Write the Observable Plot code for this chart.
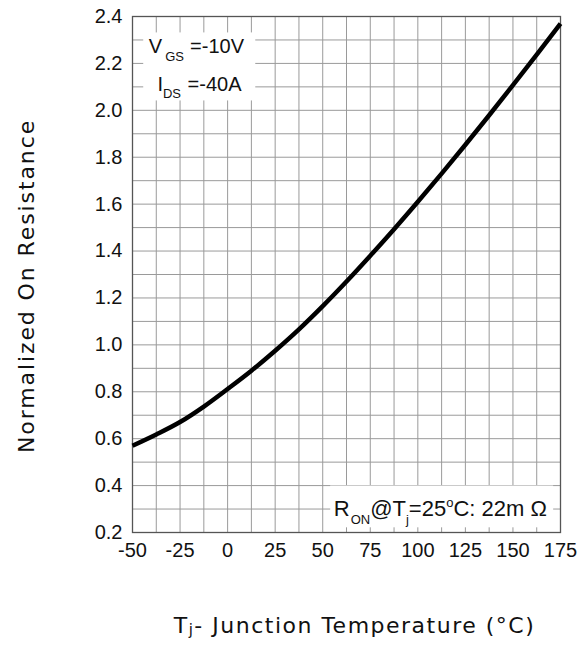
<!DOCTYPE html>
<html>
<head>
<meta charset="utf-8">
<script src="https://cdn.jsdelivr.net/npm/d3@7"></script>
<script src="https://cdn.jsdelivr.net/npm/@observablehq/plot@0.6"></script>
<style>
  body { margin: 0; background: #fff; }
  #chart svg { display: block; }
</style>
</head>
<body>
<div id="chart"></div>
<script>
// Junction temperature (°C) and normalized on-resistance
const temperature = [-50, -37.5, -25, -12.5, 0, 12.5, 25, 37.5, 50, 62.5, 75, 87.5, 100, 112.5, 125, 137.5, 150, 162.5, 175];
const resistance  = [0.570, 0.618, 0.671, 0.737, 0.812, 0.890, 0.975, 1.066, 1.165, 1.270, 1.380, 1.493, 1.610, 1.730, 1.853, 1.979, 2.107, 2.237, 2.370];

const xTickValues = [-50, -25, 0, 25, 50, 75, 100, 125, 150, 175];
const yTickValues = [0.2, 0.4, 0.6, 0.8, 1.0, 1.2, 1.4, 1.6, 1.8, 2.0, 2.2, 2.4];
const xGridValues = [-50, -37.5, -25, -12.5, 0, 12.5, 25, 37.5, 50, 62.5, 75, 87.5, 100, 112.5, 125, 137.5, 150, 162.5, 175];
const yGridValues = [0.2, 0.3, 0.4, 0.5, 0.6, 0.7, 0.8, 0.9, 1.0, 1.1, 1.2, 1.3, 1.4, 1.5, 1.6, 1.7, 1.8, 1.9, 2.0, 2.1, 2.2, 2.3, 2.4];

const xTitle = ["Tj- Junction Temperature (°C)"];
const yTitle = ["Normalized On Resistance"];
const vgsNote = ["VGS =-10V"];
const idsNote = ["IDS =-40A"];
const ronNote = ["RON@Tj=25oC: 22m Ω"];

const data = temperature.map((t, i) => ({t, r: resistance[i]}));

const plot = Plot.plot({
  width: 578,
  height: 647,
  marginLeft: 132,
  marginRight: 18,
  marginTop: 16,
  marginBottom: 115,
  style: {fontFamily: "'Liberation Sans', Arial, sans-serif", fontSize: "20px", color: "#111", background: "#fff"},
  x: {domain: [-50, 175], ticks: xTickValues, tickFormat: d => String(d), tickSize: 0, tickPadding: 10, label: null},
  y: {domain: [0.2, 2.4], ticks: yTickValues, tickFormat: d => d.toFixed(1), tickSize: 0, tickPadding: 10, label: null},
  marks: [
    Plot.ruleX(xGridValues, {stroke: "#9a9a9a", strokeWidth: 1}),
    Plot.ruleY(yGridValues, {stroke: "#9a9a9a", strokeWidth: 1}),
    Plot.rect([0], {x1: -44.1, x2: 14.8, y1: 2.04, y2: 2.33, fill: "#fff"}),
    Plot.rect([0], {x1: 54.2, x2: 171.4, y1: 0.22, y2: 0.398, fill: "#fff"}),
    Plot.frame({stroke: "#555", strokeWidth: 1.3}),
    Plot.line(data, {x: "t", y: "r", stroke: "#000", strokeWidth: 4.5, curve: "monotone-x", strokeLinecap: "butt"}),
    Plot.text(vgsNote, {x: -41.4, y: 2.2465, text: d => d, textAnchor: "start", lineAnchor: "bottom", fontSize: 20, fill: "#111"}),
    Plot.text(idsNote, {x: -36.9, y: 2.084, text: d => d, textAnchor: "start", lineAnchor: "bottom", fontSize: 20, fill: "#111"}),
    Plot.text(ronNote, {x: 55.8, y: 0.271, text: d => d, textAnchor: "start", lineAnchor: "bottom", fontSize: 22, fill: "#111"}),
    Plot.text(xTitle, {frameAnchor: "bottom", dx: 8, dy: 100, text: d => d, textAnchor: "middle", lineAnchor: "bottom", fontSize: 22, fontFamily: "DejaVu Sans", fill: "#111"}),
    Plot.text(yTitle, {frameAnchor: "left", rotate: -90, dx: -99, dy: 11.5, text: d => d, textAnchor: "middle", lineAnchor: "bottom", fontSize: 22, fontFamily: "DejaVu Sans", fill: "#111"})
  ]
});

function findText(str) {
  return d3.select(plot).selectAll("text").filter(function() { return this.textContent === str; });
}

function rich(str, parts, extra) {
  const t = findText(str);
  t.text(null);
  if (extra) for (const k in extra) t.style(k, extra[k]);
  for (const p of parts) {
    const s = t.append("tspan").text(p.t);
    if (p.size) s.attr("font-size", p.size);
    if (p.dy) s.attr("dy", p.dy);
    if (p.dx) s.attr("dx", p.dx);
  }
}

rich(vgsNote[0], [
  {t: "V", size: 20},
  {t: "GS", size: 13, dy: 8, dx: 3},
  {t: " =-10V", size: 20, dy: -8, dx: 0.5}
]);
rich(idsNote[0], [
  {t: "I", size: 20},
  {t: "DS", size: 13, dy: 7},
  {t: " =-40A", size: 20, dy: -7, dx: 1}
]);
rich(ronNote[0], [
  {t: "R", size: 22},
  {t: "ON", size: 13, dy: 8, dx: 1},
  {t: "@T", size: 22, dy: -8},
  {t: "j", size: 13, dy: 8},
  {t: "=25", size: 22, dy: -8},
  {t: "o", size: 13, dy: -9},
  {t: "C: 22m Ω", size: 22, dy: 9}
]);
rich(xTitle[0], [
  {t: "T", size: 22},
  {t: "j", size: 15, dy: 2},
  {t: "- Junction Temperature (°C)", size: 22, dy: -2}
], {"letter-spacing": "1.5px"});
findText(yTitle[0]).style("letter-spacing", "1.9px");

document.getElementById("chart").append(plot);
</script>
</body>
</html>
